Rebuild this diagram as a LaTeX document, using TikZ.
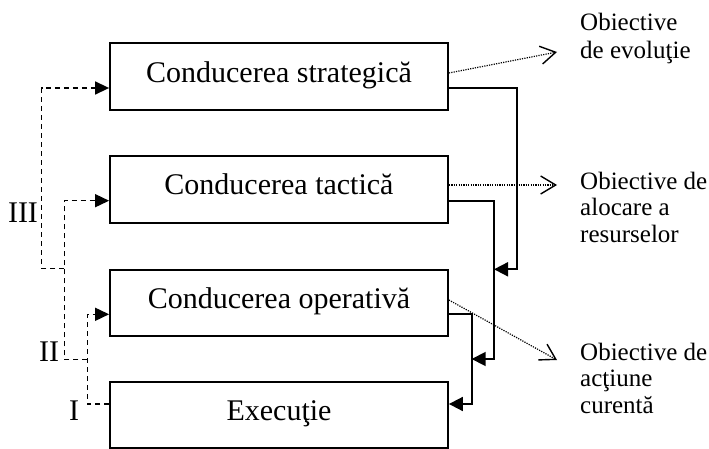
\documentclass[tikz,border=0pt]{standalone}
\usepackage{fontspec}
\setmainfont{Liberation Serif}
\usetikzlibrary{arrows.meta}
\begin{document}
\begin{tikzpicture}[x=1pt,y=-1pt,
  boxstyle/.style={draw, line width=1.8pt, minimum width=338pt, minimum height=66.7pt,
    inner sep=0pt, text height=20pt, text depth=9pt, font=\fontsize{30}{34}\selectfont},
  flow/.style={line width=1.8pt, -{Triangle[length=14pt,width=14pt]}},
  lev/.style={line width=1.5pt, dash pattern=on 5pt off 4pt, -{Triangle[length=14pt,width=13pt]}},
  obj/.style={line width=1.2pt, dash pattern=on 1.2pt off 1.2pt,
    -{Straight Barb[length=15pt,width=18pt,line width=1.4pt]}},
  objlbl/.style={font=\fontsize{25}{26.5}\selectfont, anchor=base west, align=left, inner sep=0pt},
  roman/.style={font=\fontsize{30}{34}\selectfont, inner sep=0pt, anchor=center}
]
\useasboundingbox (0,0) rectangle (709,449);
% boxes
\node[boxstyle] (b1) at (279,76.7) {Conducerea strategică};
\node[boxstyle] (b2) at (279,189.4) {Conducerea tactică};
\node[boxstyle] (b3) at (279,303) {Conducerea operativă};
\node[boxstyle, minimum height=66pt] (b4) at (279,414.7) {Execuţie};
% objective labels (anchor = baseline of last line)
\node[objlbl] (o1) at (580,59) {Obiective\\[1.5pt]de evoluţie};
\node[objlbl] (o2) at (580,242.3) {Obiective de\\alocare a\\resurselor};
\node[objlbl] (o3) at (580,413) {Obiective de\\acţiune\\curentă};
% level labels
\node[roman] (l3) at (23,213) {III};
\node[roman] (l2) at (49,352) {II};
\node[roman] (l1) at (74,411) {I};
% coordinates
\coordinate (t1) at (557,52);
\coordinate (t2) at (557,185);
\coordinate (t3) at (557,360);
\coordinate (r1a) at (517,88);
\coordinate (r1b) at (517,269.3);
\coordinate (j1) at (494,269.3);
\coordinate (r2a) at (494,200.7);
\coordinate (r2b) at (494,359);
\coordinate (j2) at (471.7,359);
\coordinate (r3a) at (471.7,314.3);
\coordinate (r3b) at (471.7,404);
\coordinate (d3a) at (64.3,268.3);
\coordinate (d3b) at (41.7,268.3);
\coordinate (d3c) at (41.7,88);
\coordinate (d2a) at (87.3,359.3);
\coordinate (d2b) at (64.3,359.3);
\coordinate (d2c) at (64.3,200.7);
\coordinate (d1a) at (87.3,404);
\coordinate (d1b) at (87.3,314.3);
% dotted objective arrows
\draw[obj] ([yshift=3.7pt]b1.east) -- (t1);
\draw[obj] ([yshift=4.4pt]b2.east) -- (t2);
\draw[obj] ([yshift=3pt]b3.east) -- (t3);
% solid flow
\draw[flow] ([yshift=-11.3pt]b1.east) -- (r1a) -- (r1b) -- (j1);
\draw[flow] ([yshift=-11.3pt]b2.east) -- (r2a) -- (r2b) -- (j2);
\draw[flow] ([yshift=-11.3pt]b3.east) -- (r3a) -- (r3b) -- ([yshift=10.7pt]b4.east);
% dashed levels
\draw[lev] (d3a) -- (d3b) -- (d3c) -- ([yshift=-11.3pt]b1.west);
\draw[lev] (d2a) -- (d2b) -- (d2c) -- ([yshift=-11.3pt]b2.west);
\draw[lev] ([yshift=10.7pt]b4.west) -- (d1a) -- (d1b) -- ([yshift=-11.3pt]b3.west);
\end{tikzpicture}
\end{document}
